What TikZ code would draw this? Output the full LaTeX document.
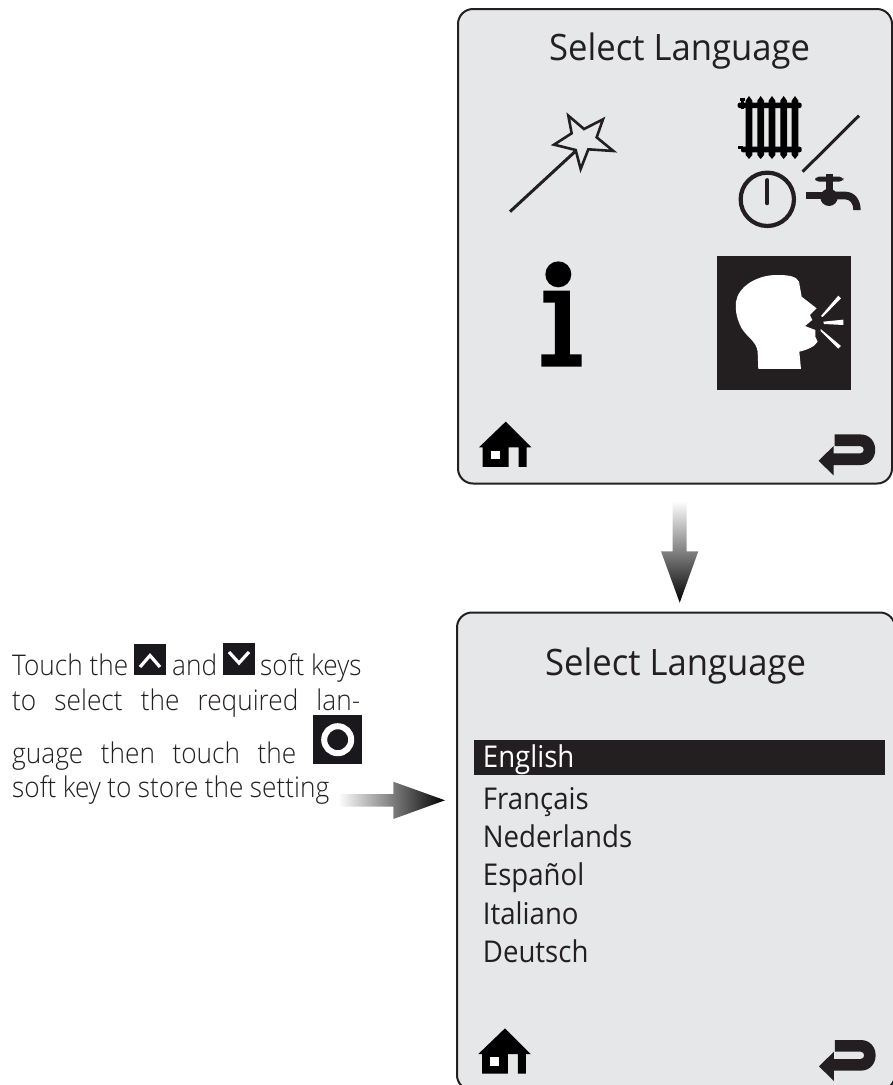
\documentclass[tikz,border=0pt]{standalone}
\usepackage{fontspec}
\setmainfont{Open Sans}
\newfontfamily\titlef[FakeStretch=0.952]{Open Sans}
\newfontfamily\listf[FakeStretch=0.92]{Open Sans}
\newfontfamily\lightf[FakeStretch=0.92]{Open Sans Light}
\definecolor{ink}{HTML}{231F20}
\definecolor{panelgrey}{HTML}{E6E7E8}
\definecolor{keyblack}{HTML}{1A181C}
\definecolor{midarrow}{HTML}{574E4B}
\tikzset{
  panel/.style={draw=ink,fill=panelgrey,line width=2pt,rounded corners=15pt},
  titletext/.style={anchor=base west,inner sep=0pt,text=ink,font=\titlef\fontsize{36.4}{38}\selectfont},
  listtext/.style={anchor=base west,inner sep=0pt,text=ink,font=\listf\fontsize{30}{32}\selectfont},
  bodytext/.style={anchor=base west,inner sep=0pt,text=ink,font=\lightf\fontsize{28.5}{32}\selectfont},
  zoomA/.style={x=0.3333pt,y=-0.3333pt},
}
\newcommand{\homeicon}{%
  \fill[black] (195,85) -- (272,162) -- (258,162) -- (258,221) -- (234,221) -- (234,162) -- (204,162) -- (204,221) -- (126,221) -- (126,162) -- (115,162) -- cycle;
  \fill[white] (150,172) rectangle (177,198);
}
\newcommand{\returnicon}{%
  \fill[ink] (1137,199) -- (1182,155) -- (1182,177) -- (1262,177) .. controls (1276,177) and (1276,155) .. (1262,155) -- (1185,155) -- (1185,120) -- (1262,120) .. controls (1322,120) and (1322,212) .. (1262,212) -- (1182,212) -- (1182,243) -- cycle;
}
\begin{document}
\begin{tikzpicture}[x=1pt,y=-1pt]
\useasboundingbox (0,0) rectangle (893,1085);
% panels
\draw[panel] (458,9) rectangle (892,483.5);
\draw[panel] (457,612.5) rectangle (895,1090);
% titles
\node[titletext] (title1) at (549,60) {Select Language};
\node[titletext] (title2) at (545,675) {Select Language};
% wand
\begin{scope}[shift={(480,100)},zoomA]
  \draw[ink,line width=3pt] (90,335) -- (285,155);
  \draw[ink,line width=2.6pt,miter limit=6] (265,47) -- (312,87) -- (369,58) -- (350,112) -- (400,153) -- (325,148) -- (302,207) -- (287,150) -- (222,134) -- (275,100) -- cycle;
  % slash
  \draw[ink,line width=3pt] (968,215) -- (1137,47);
  % clock
  \draw[ink,line width=4.2pt] (862,298) circle[radius=80];
  \draw[ink,line width=3.8pt,line cap=round] (862,240) -- (862,310);
\end{scope}
% radiator
\begin{scope}[shift={(725,80)},zoomA]
  \foreach \bx in {72,107,141,176,210}{
    \fill[black] (\bx-10,62) -- (\bx,48) -- (\bx+10,62) -- (\bx+10,225) -- (\bx,237) -- (\bx-10,225) -- cycle;
  }
  \fill[black,rounded corners=2pt] (38,68) rectangle (230,84);
  \fill[black,rounded corners=2pt] (48,200) rectangle (230,217);
  \fill[black] (45,54) rectangle (60,62);
  \fill[black] (48,60) rectangle (58,86);
  \fill[black] (40,198) rectangle (55,208);
\end{scope}
% tap
\begin{scope}[shift={(800,165)},zoomA]
  \fill[ink,rounded corners=4pt] (45,35) rectangle (130,50);
  \fill[ink] (78,28) rectangle (98,80);
  \fill[ink] (87,97) circle[radius=26];
  \fill[ink] (18,80) rectangle (70,103);
  \fill[ink] (100,80) -- (135,80) .. controls (165,80) and (182,105) .. (182,135) -- (160,135) .. controls (160,115) and (150,103) .. (135,103) -- (100,103) -- cycle;
\end{scope}
% info and speech icons
\begin{scope}[shift={(500,245)},zoomA]
  \fill[black] (175,88) circle[radius=39];
  \fill[black] (130,137) -- (210,137) -- (210,328) -- (245,328) -- (245,365) -- (124,365) -- (124,328) -- (165,328) -- (165,173) -- (130,173) -- cycle;
  \fill[ink] (651,33) rectangle (1053,434);
  \fill[white] (775,372) -- (773,320) .. controls (770,290) and (740,275) .. (725,250) .. controls (712,225) and (705,200) .. (708,170) .. controls (715,125) and (770,90) .. (830,90) .. controls (860,90) and (890,92) .. (897,110) -- (905,155) -- (950,190) -- (930,210) -- (937,225) -- (915,243) -- (946,255) -- (946,275) -- (953,290) .. controls (945,305) and (920,315) .. (898,320) -- (903,372) -- cycle;
  \fill[white] (963,213) -- (1015,152) -- (1023,160) -- (968,216) -- cycle;
  \fill[white] (970,230) -- (1030,224) -- (1030,240) -- (972,237) -- cycle;
  \fill[white] (962,252) -- (1023,303) -- (1015,311) -- (962,258) -- cycle;
\end{scope}
% footer icons top panel
\begin{scope}[shift={(440.7,393.3)},zoomA]\homeicon\end{scope}
\begin{scope}[shift={(439.6,394.4)},zoomA]\returnicon\end{scope}
% footer icons bottom panel
\begin{scope}[shift={(440,1000)},zoomA]\homeicon\returnicon\end{scope}
% list
\fill[ink] (474,740) rectangle (885,775);
\node[listtext,text=white] (l1) at (482.7,767.7) {English};
\node[listtext] (l2) at (482.7,809.3) {Français};
\node[listtext] (l3) at (482.7,847.3) {Nederlands};
\node[listtext] (l4) at (482.7,885.7) {Español};
\node[listtext] (l5) at (482.7,924) {Italiano};
\node[listtext] (l6) at (482.7,962.7) {Deutsch};
% arrows
\shade[top color=white,middle color=midarrow,bottom color=black] (672.7,501) -- (686.7,501) -- (686.7,551.3) -- (698.3,551.3) -- (679.7,602.7) -- (661,551.3) -- (672.7,551.3) -- cycle;
\shade[left color=white,middle color=midarrow,right color=black] (338,794) -- (393.3,794) -- (393.3,781.7) -- (445,800.3) -- (393.3,819) -- (393.3,806.7) -- (338,806.7) -- cycle;
% body text
\node[bodytext] (t1a) at (12,675) {Touch the};
\node[bodytext] (t1b) at (172,675) {and};
\node[bodytext] (t1c) at (260,675) {soft keys};
\node[bodytext] (t2) at (12,710) {\makebox[348pt][s]{to\hfill select\hfill the\hfill required\hfill lan-}};
\node[bodytext] (t3) at (12,763) {\makebox[284pt][s]{guage\hfill then\hfill touch\hfill the}};
\node[bodytext] (t4) at (12,797) {\makebox[317pt][s]{soft\hfill key\hfill to\hfill store\hfill the\hfill setting}};
% soft key icons
\fill[keyblack] (134,644) rectangle (166,675);
\draw[white,line width=3.2pt] (140,667) -- (150,655.5) -- (160,667);
\fill[keyblack] (223,643) rectangle (255,675);
\draw[white,line width=3.2pt] (229,652) -- (239,663) -- (249,652);
\fill[keyblack] (313,715) rectangle (362,764);
\draw[white,line width=6pt] (337.7,739.7) circle[radius=13.5];
\end{tikzpicture}
\end{document}
